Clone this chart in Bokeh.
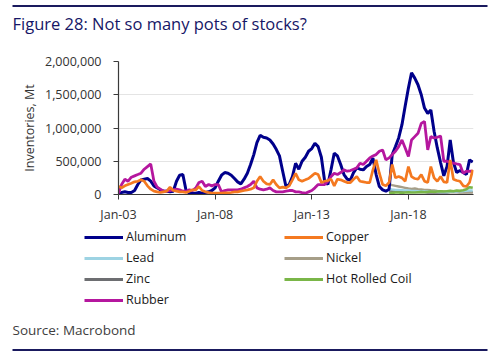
import pandas as pd
from bokeh.plotting import figure
from bokeh.layouts import column
from bokeh.models import (Range1d, FixedTicker, DatetimeTickFormatter, Legend, LegendItem,
                          NumeralTickFormatter)
from bokeh.core.properties import value
from bokeh.embed import file_html
from bokeh.resources import INLINE

FONT = "Open Sans"

# ---- data (thousand tonnes), bimonthly from Jan-2003 ----
aluminum = [
    0, 30, 40, 30, 30, 60,
    150, 220, 230, 240, 200, 130,
    100, 70, 50, 50, 40, 50,
    200, 290, 300, 60, 20, 20,
    20, 30, 20, 30, 40, 60,
    100, 200, 290, 330, 320, 290,
    240, 190, 160, 230, 320, 450,
    600, 780, 890, 860, 850, 820,
    760, 680, 580, 350, 120, 150,
    270, 470, 380, 500, 560, 650,
    690, 770, 720, 560, 200, 150,
    380, 620, 580, 450, 300, 230,
    220, 330, 400, 380, 370, 420,
    450, 550, 300, 120, 70, 50,
    80, 600, 720, 850, 1050, 1330,
    1600, 1830, 1750, 1650, 1500, 1300,
    1220, 1270, 950, 700, 480, 280,
    420, 820, 480, 330, 360, 330,
    300, 520, 490,
]
copper = [
    120, 100, 130, 150, 170, 190,
    200, 220, 200, 130, 80, 50,
    40, 30, 40, 50, 110, 60,
    50, 40, 40, 30, 50, 70,
    70, 120, 60, 40, 30, 20,
    20, 20, 20, 25, 25, 30,
    40, 40, 50, 60, 70, 80,
    100, 200, 270, 200, 160, 150,
    220, 150, 100, 110, 100, 130,
    220, 320, 220, 200, 220, 240,
    280, 320, 300, 180, 200, 210,
    230, 130, 230, 220, 200, 180,
    180, 230, 270, 200, 190, 180,
    180, 370, 520, 320, 150, 130,
    180, 450, 250, 270, 250, 200,
    420, 270, 240, 230, 300, 200,
    180, 420, 250, 200, 270, 190,
    180, 520, 230, 210, 200, 130,
    120, 180, 370,
]
rubber = [
    20, 150, 230, 200, 260, 280,
    300, 320, 380, 420, 460, 200,
    110, 80, 50, 50, 60, 70,
    80, 70, 50, 50, 70, 60,
    100, 180, 200, 120, 150, 130,
    150, 150, 40, 60, 70, 70,
    70, 70, 80, 100, 120, 150,
    200, 100, 80, 70, 80, 100,
    60, 40, 40, 40, 50, 60,
    60, 40, 40, 30, 20, 40,
    60, 100, 150, 150, 150, 200,
    270, 320, 300, 330, 370, 350,
    360, 380, 400, 470, 450, 500,
    550, 580, 600, 650, 670, 520,
    550, 600, 650, 720, 820, 700,
    570, 820, 870, 920, 1070, 1100,
    670, 870, 850, 860, 880, 500,
    500, 480, 470, 460, 450, 320,
    350, 350, 350,
]
# bimonthly from Jan-2017
lead = [80, 75, 70, 70, 65, 60, 60, 55, 55, 50, 50, 45, 45, 40, 40, 40, 35, 35,
        35, 40, 45, 45, 50, 50, 55, 60, 60]
nickel = [150, 140, 130, 120, 110, 100, 90, 85, 90, 80, 75, 70, 70, 65, 60, 55, 50, 45,
          40, 35, 35, 35, 30, 30, 30, 30, 30]
zinc = [60, 55, 50, 50, 45, 45, 40, 40, 40, 35, 35, 35, 30, 30, 30, 30, 30, 30,
        30, 35, 35, 35, 35, 35, 35, 35, 35]
hrc = [20, 25, 30, 30, 25, 30, 35, 30, 30, 35, 40, 35, 40, 45, 40, 45, 50, 45,
       50, 55, 50, 60, 55, 65, 80, 110, 100]

series_names = ["Aluminum", "Copper", "Lead", "Nickel", "Zinc", "Hot Rolled Coil", "Rubber"]
series_colors = ["#00008b", "#f47920", "#9dd3e3", "#a69e88", "#6d6e71", "#7ab648", "#b5179e"]
tick_years = ["2003-01-01", "2008-01-01", "2013-01-01", "2018-01-01"]
y_ticks = [0, 500000, 1000000, 1500000, 2000000]

dates_main = pd.date_range("2003-01-01", periods=len(aluminum), freq="2MS")
dates_minor = pd.date_range("2017-01-01", periods=len(lead), freq="2MS")


def t(v):
    return [x * 1000 for x in v]


def blank(h, y_top, y_bottom):
    f = figure(width=500, height=h, output_backend="svg", toolbar_location=None,
               title=None,
               x_range=Range1d(0, 500), y_range=Range1d(y_bottom, y_top),
               x_axis_location=None, y_axis_location=None,
               min_border=0, min_border_left=0, min_border_right=0,
               min_border_top=0, min_border_bottom=0, frame_align=False)
    f.outline_line_color = None
    f.background_fill_color = "white"
    f.border_fill_color = "white"
    f.xgrid.visible = False
    f.ygrid.visible = False
    return f


RULE = "#1a1a5e"

# ---------- header ----------
head = blank(40, 0, 40)
head.quad(left=[12], right=[487], top=[4.6], bottom=[6.4], fill_color=RULE, line_color=None)
head.text(x=[12], y=[22.7], text=["Figure 28: Not so many pots of stocks?"],
          text_font=value(FONT), text_font_size=value("16.5px"), text_color="#161666",
          text_baseline="alphabetic")

# ---------- main chart ----------
p = figure(width=500, height=185, output_backend="svg", toolbar_location=None,
           x_axis_type="datetime",
           x_range=Range1d(pd.Timestamp("2003-01-01"), pd.Timestamp("2021-05-15")),
           y_range=Range1d(0, 2000000), frame_align=False,
           min_border_left=118, min_border_right=27, min_border_top=21, min_border_bottom=30)
p.outline_line_color = None
p.xgrid.visible = False
p.ygrid.grid_line_color = "#e4e4e4"
p.ygrid.grid_line_width = 1

p.yaxis.ticker = FixedTicker(ticks=y_ticks)
p.yaxis.formatter = NumeralTickFormatter(format="0,0")
p.xaxis.ticker = FixedTicker(ticks=[pd.Timestamp(d).value // 10**6 for d in tick_years])
fmt = "%b-%y"
p.xaxis.formatter = DatetimeTickFormatter(years=fmt, months=fmt, days=fmt, hours=fmt,
                                          hourmin=fmt, minutes=fmt, minsec=fmt,
                                          seconds=fmt, milliseconds=fmt, microseconds=fmt)
for ax in (p.xaxis[0], p.yaxis[0]):
    ax.axis_line_color = "#3a3a3a"
    ax.axis_line_width = 1.2
    ax.major_tick_line_color = "#3a3a3a"
    ax.major_tick_out = 5
    ax.major_tick_in = 0
    ax.minor_tick_line_color = None
    ax.major_label_text_font = FONT
    ax.major_label_text_font_size = "12.5px"
    ax.major_label_text_color = "#333333"
p.yaxis.major_label_standoff = 12
p.xaxis.major_label_standoff = 6
p.yaxis.axis_label = "Inventories, Mt"
p.yaxis.axis_label_text_font = FONT
p.yaxis.axis_label_text_font_size = "12.5px"
p.yaxis.axis_label_text_font_style = "normal"
p.yaxis.axis_label_text_color = "#333333"
p.yaxis.axis_label_standoff = 4

series = {
    "Aluminum": (dates_main, aluminum, 3),
    "Copper": (dates_main, copper, 2.7),
    "Lead": (dates_minor, lead, 2.4),
    "Nickel": (dates_minor, nickel, 2.4),
    "Zinc": (dates_minor, zinc, 2.4),
    "Hot Rolled Coil": (dates_minor, hrc, 2.6),
    "Rubber": (dates_main, rubber, 2.8),
}
colors = dict(zip(series_names, series_colors))
draw_order = ["Zinc", "Nickel", "Lead", "Hot Rolled Coil", "Aluminum", "Rubber", "Copper"]
for name in draw_order:
    xs, ys, w = series[name]
    p.line(xs, t(ys), line_color=colors[name], line_width=w)

# ---------- footer: legend, source, rule ----------
foot = blank(131, 225, 356)
legend_items = {}
for name in series_names:
    # legend swatch renderer kept outside the visible range
    r = foot.line(x=[-60, -50], y=[0, 0], line_color=colors[name], line_width=3)
    legend_items[name] = LegendItem(label=name, renderers=[r])
# column-major fill: left column then right column
order = ["Aluminum", "Lead", "Zinc", "Rubber", "Copper", "Nickel", "Hot Rolled Coil"]
legend = Legend(items=[legend_items[n] for n in order], location=(84, 48), ncols=2,
                orientation="vertical")
legend.glyph_width = 39
legend.glyph_height = 14
legend.label_standoff = 3
legend.label_width = 154
legend.label_height = 14
legend.spacing = 4
legend.padding = 0
legend.margin = 0
legend.border_line_alpha = 0
legend.background_fill_alpha = 0
legend.label_text_font = FONT
legend.label_text_font_size = "12.5px"
legend.label_text_color = "#1a1a1a"
foot.add_layout(legend)
foot.text(x=[12], y=[329], text=["Source: Macrobond"], text_font=value(FONT),
          text_font_size=value("13.5px"), text_color="#404040", text_baseline="alphabetic")
foot.quad(left=[12], right=[487], top=[348.6], bottom=[350.4], fill_color=RULE, line_color=None)

layout = column(head, p, foot, spacing=0)
open("out.html", "w").write(file_html(layout, INLINE))
